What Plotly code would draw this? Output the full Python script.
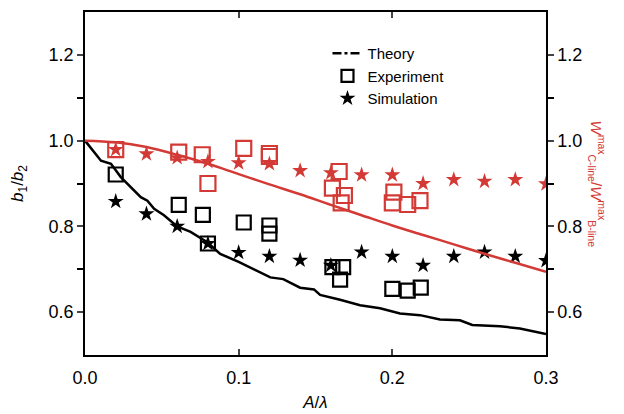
import plotly.graph_objects as go

RED = "#d33a35"

# Theory curves
theory_x_black = [0.0, 0.0104, 0.0169, 0.0233, 0.0363, 0.0406, 0.045, 0.0514, 0.06, 0.0687, 0.0796, 0.088,
                  0.10, 0.11, 0.1206, 0.129, 0.14, 0.149, 0.153, 0.166, 0.179, 0.192, 0.205, 0.218,
                  0.231, 0.244, 0.252, 0.27, 0.283, 0.30]
theory_y_black = [1.0, 0.953, 0.946, 0.915, 0.868, 0.86, 0.841, 0.826, 0.80, 0.787, 0.763, 0.736,
                  0.717, 0.70, 0.681, 0.677, 0.657, 0.653, 0.64, 0.629, 0.616, 0.609, 0.597, 0.593,
                  0.583, 0.581, 0.570, 0.567, 0.562, 0.549]

theory_x_red = [0.0, 0.02, 0.04, 0.06, 0.08, 0.10, 0.12, 0.14, 0.16, 0.18, 0.20, 0.22, 0.24, 0.26, 0.28, 0.30]
theory_y_red = [1.0, 0.996, 0.985, 0.967, 0.946, 0.922, 0.898, 0.875, 0.85, 0.826, 0.802, 0.78, 0.758, 0.736, 0.715, 0.694]

# Experiments (squares)
exp_x_black = [0.02, 0.061, 0.0767, 0.08, 0.1033, 0.12, 0.12, 0.161, 0.168, 0.166, 0.20, 0.21, 0.2185]
exp_y_black = [0.921, 0.850, 0.827, 0.76, 0.809, 0.802, 0.783, 0.705, 0.705, 0.676, 0.654, 0.65, 0.657]

exp_x_red = [0.02, 0.061, 0.0763, 0.08, 0.1033, 0.12, 0.12, 0.1654, 0.161, 0.1688, 0.1667, 0.201, 0.20, 0.21, 0.218]
exp_y_red = [0.979, 0.973, 0.967, 0.90, 0.982, 0.970, 0.963, 0.928, 0.889, 0.872, 0.855, 0.88, 0.855, 0.851, 0.86]

# Simulations (stars)
sim_x = [0.02, 0.04, 0.06, 0.08, 0.10, 0.12, 0.14, 0.16, 0.18, 0.20, 0.22, 0.24, 0.26, 0.28, 0.30]
sim_y_black = [0.858, 0.829, 0.80, 0.76, 0.739, 0.73, 0.721, 0.709, 0.74, 0.73, 0.709, 0.73, 0.74, 0.73, 0.72]
sim_y_red = [0.979, 0.969, 0.96, 0.951, 0.948, 0.946, 0.93, 0.925, 0.92, 0.92, 0.90, 0.909, 0.905, 0.909, 0.899]

fig = go.Figure()

fig.add_trace(go.Scatter(x=theory_x_black, y=theory_y_black, mode="lines",
                         line=dict(color="black", width=2.5), showlegend=False))
fig.add_trace(go.Scatter(x=theory_x_red, y=theory_y_red, mode="lines", yaxis="y2",
                         line=dict(color=RED, width=2.5, shape="spline"), showlegend=False))

fig.add_trace(go.Scatter(x=exp_x_black, y=exp_y_black, mode="markers",
                         marker=dict(symbol="square-open", size=14, color="black", line=dict(width=2.2)),
                         showlegend=False))
fig.add_trace(go.Scatter(x=exp_x_red, y=exp_y_red, mode="markers", yaxis="y2",
                         marker=dict(symbol="square-open", size=15, color=RED, line=dict(width=2.2)),
                         showlegend=False))
fig.add_trace(go.Scatter(x=sim_x, y=sim_y_black, mode="markers",
                         marker=dict(symbol="star", size=12, color="black", line=dict(width=0)),
                         showlegend=False))
fig.add_trace(go.Scatter(x=sim_x, y=sim_y_red, mode="markers", yaxis="y2",
                         marker=dict(symbol="star", size=12, color=RED, line=dict(width=0)),
                         showlegend=False))

# legend entries
fig.add_trace(go.Scatter(x=[None], y=[None], mode="lines", name="Theory",
                         line=dict(color="black", width=2.5, dash="dashdot")))
fig.add_trace(go.Scatter(x=[None], y=[None], mode="markers", name="Experiment",
                         marker=dict(symbol="square-open", size=12, color="black", line=dict(width=2.2))))
fig.add_trace(go.Scatter(x=[None], y=[None], mode="markers", name="Simulation",
                         marker=dict(symbol="star", size=12, color="black", line=dict(width=0))))

font = "Liberation Sans, Arial, Helvetica, sans-serif"

fig.update_layout(
    width=624, height=414,
    margin=dict(l=76, r=86, t=2, b=67),
    plot_bgcolor="white", paper_bgcolor="white",
    font=dict(family=font, size=18, color="black"),
    showlegend=True,
    legend=dict(x=0.526, y=0.927, xanchor="left", yanchor="top", bgcolor="rgba(0,0,0,0)",
                font=dict(size=15), itemwidth=30, tracegroupgap=0),
    xaxis=dict(range=[0, 0.3], tickvals=[0, 0.1, 0.2, 0.3], tickformat=".1f",
               ticks="inside", ticklen=6, tickwidth=1.5, showline=True, linecolor="black",
               linewidth=1.5, mirror="ticks", showgrid=False, zeroline=False,
               ticklabelstandoff=6,
               title=dict(text="<i>A</i>/<i>λ</i>", font=dict(size=17), standoff=9)),
    yaxis=dict(range=[0.5, 1.3], tickvals=[0.6, 0.8, 1.0, 1.2], tickformat=".1f",
               ticks="outside", ticklen=6, tickwidth=1.5, showline=True, linecolor="black",
               linewidth=1.5, showgrid=False, zeroline=False,
               minor=dict(tickvals=[0.7, 0.9, 1.1], ticks="outside", ticklen=6, tickwidth=1.5,
                          tickcolor="black"),
               title=dict(text="<i>b</i><sub>1</sub>/<i>b</i><sub>2</sub>", font=dict(size=17), standoff=27)),
    yaxis2=dict(range=[0.5, 1.3], tickvals=[0.6, 0.8, 1.0, 1.2], tickformat=".1f",
                overlaying="y", side="right", anchor="x",
                ticks="outside", ticklen=6, tickwidth=1.5, showline=True, linecolor="black",
                linewidth=1.5, showgrid=False, zeroline=False,
                minor=dict(tickvals=[0.7, 0.9, 1.1], ticks="outside", ticklen=6, tickwidth=1.5,
                           tickcolor="black")),
)

fig.add_annotation(
    text="<i>W</i><sup>max</sup><sub>C-line</sub>/<i>W</i><sup>max</sup><sub>B-line</sub>",
    xref="paper", yref="paper", x=1.0, y=0.5, xshift=51, yshift=0,
    showarrow=False, textangle=90, font=dict(size=15, color=RED, family=font),
    xanchor="center", yanchor="middle",
)

fig.write_html("out.html")
